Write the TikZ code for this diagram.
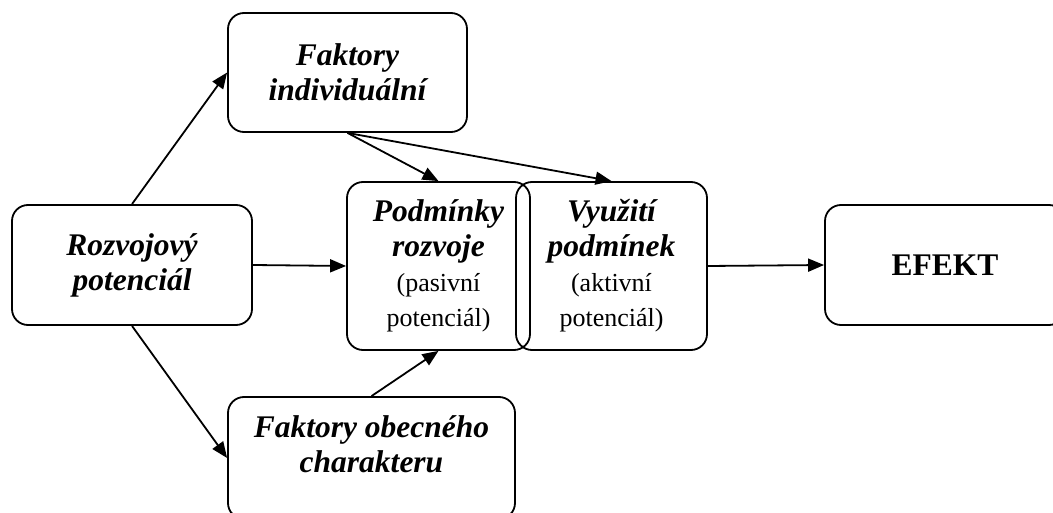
\documentclass[tikz,border=0pt]{standalone}
\usepackage{fontspec}
\setmainfont{Liberation Serif}
\usetikzlibrary{arrows.meta}
\tikzstyle{potbox} = [rectangle, rounded corners=16pt, draw=black, line width=1.8pt, align=center, inner sep=0pt, font=\fontsize{31.5}{35}\selectfont\bfseries\itshape]
\tikzstyle{arrow} = [line width=1.8pt, -{Triangle[length=16pt,width=13pt]}]
\newcommand{\plaintext}[1]{{\normalfont\fontsize{26}{35}\selectfont #1}}

\begin{document}
\begin{tikzpicture}[x=1pt, y=-1pt]
\clip (0,0) rectangle (1053,513);
% Boxes
\node[potbox, minimum width=240pt, minimum height=120pt] (rozvoj) at (132,265) {Rozvojový\\potenciál};
\node[potbox, minimum width=239pt, minimum height=119pt] (indiv) at (347.5,72.5) {Faktory\\individuální};
\node[potbox, minimum width=287pt, minimum height=122pt, text depth=28pt] (obec) at (371.5,458) {Faktory obecného\\charakteru};
\node[potbox, minimum width=183pt, minimum height=168pt] (podm) at (438.5,266) {Podmínky\\rozvoje\\\plaintext{(pasivní}\\\plaintext{potenciál)}};
\node[potbox, minimum width=191pt, minimum height=168pt] (vyuz) at (611.5,266) {Využití\\podmínek\\\plaintext{(aktivní}\\\plaintext{potenciál)}};
\node[potbox, font=\fontsize{31.5}{35}\selectfont\bfseries, minimum width=240pt, minimum height=120pt] (efekt) at (945,265) {EFEKT};

% Arrows
\draw[arrow] (rozvoj.north) -- (indiv.west);
\draw[arrow] (rozvoj.south) -- (obec.west);
\draw[arrow] (rozvoj.east) -- (podm.west);
\draw[arrow] (indiv.south) -- (podm.north);
\draw[arrow] (indiv.south) -- (vyuz.north);
\draw[arrow] (obec.north) -- (podm.south);
\draw[arrow] (vyuz.east) -- (efekt.west);
\end{tikzpicture}
\end{document}
